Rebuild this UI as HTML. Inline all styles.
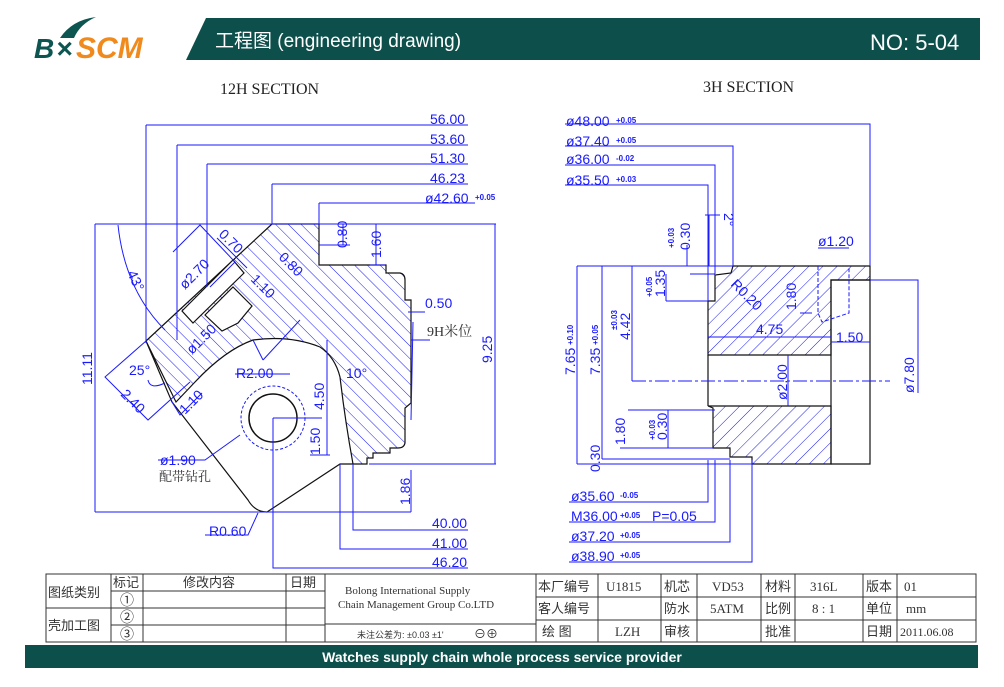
<!DOCTYPE html>
<html><head><meta charset="utf-8"><style>
html,body{margin:0;padding:0;background:#fff;}
svg{display:block;}
.b{fill:#1a1aff;font-family:"Liberation Sans",sans-serif;font-size:14px;}
.s{fill:#1a1aff;font-family:"Liberation Sans",sans-serif;font-size:8px;font-weight:bold;}
.k{fill:#222;font-family:"Liberation Serif","Noto Serif CJK SC",serif;}
.t{font-family:"Liberation Sans","Noto Sans CJK SC",sans-serif;}
</style></head><body>
<svg width="1004" height="687" viewBox="0 0 1004 687" xmlns="http://www.w3.org/2000/svg">
<defs>
<pattern id="hL" width="9" height="9" patternUnits="userSpaceOnUse" patternTransform="rotate(-45)"><line x1="0" y1="0" x2="0" y2="9" stroke="#1a1aff" stroke-width="1"/></pattern>
<pattern id="hR" width="10" height="10" patternUnits="userSpaceOnUse" patternTransform="rotate(45)"><line x1="0" y1="0" x2="0" y2="10" stroke="#1a1aff" stroke-width="1"/></pattern>
</defs>
<!-- header -->
<g>
<path d="M60 38 Q72 20 96 17 Q80 24 74 38Z" fill="#0d5550"/>
<text x="34" y="58" font-family="Liberation Sans" font-style="italic" font-weight="bold" font-size="28" fill="#0d5550">B</text>
<text x="56" y="58" font-family="Liberation Sans" font-style="italic" font-weight="bold" font-size="28" fill="#0d5550">×</text>
<text x="76" y="58" font-family="Liberation Sans" font-style="italic" font-weight="bold" font-size="30" fill="#f08a1c">SCM</text>
<path d="M206 18 L980 18 L980 60 L186 60Z" fill="#0d4f4b"/>
<text x="215" y="47" class="t" fill="#fff" font-size="19">工程图  (engineering drawing)</text>
<text x="870" y="50" class="t" fill="#fff" font-size="22">NO: 5-04</text>
</g>
<text x="220" y="94" class="k" font-size="16">12H SECTION</text>
<text x="703" y="92" class="k" font-size="16">3H SECTION</text>

<!-- LEFT DRAWING -->
<g>
<path d="M146 341 L272 224 L319 224 L319 265 L386 265 L386 273 L400 273 Q405 274 405 280 L405 300 L411 300 L411 403 L405 408 L405 443 Q404 448 398 448 L390 448 L390 453 L373 453 L373 458 L367 458 L367 464 L353 464 Q345 420 340 377 Q335 357 320 347 Q290 335 253 340 Q225 350 195 382 L176 402 Z" fill="url(#hL)" stroke="#111" stroke-width="1.2"/>
<path d="M146 341 L172 402 L248 500 Q255 512 267 512 L340 464 L353 464" fill="none" stroke="#111" stroke-width="1.2"/>
<path d="M182 311 L233 260 L244 273 L193 323 Z" fill="#fff" stroke="#111" stroke-width="1.2"/>
<path d="M205 315 L233 287 L252 306 L238 323 L222 331 Z" fill="#fff" stroke="#111" stroke-width="1.2"/>
<circle cx="273" cy="418" r="24" fill="#fff" stroke="#111" stroke-width="1.5"/>
<circle cx="273" cy="418" r="32" fill="none" stroke="#1a1aff" stroke-dasharray="3,2"/>
<g stroke="#1a1aff" stroke-width="1" fill="none">
<path d="M146 125H468M146 125V343M177 145H468M177 145V340M207 164H468M207 164V287M272 184H468M272 184V224M319 203H475M319 203V224"/>
<path d="M95 224H496M495 224V464M369 464H496M95 224V512M95 512H411M411 470V512"/>
<path d="M319 245H350M343 224V245M376 224V265M370 265H385"/>
<path d="M408 312H425M413 322L411 420M411 340H430"/>
<path d="M353 464V530H468M340 464V549H468M273 418V568H468"/>
<path d="M327 340V455M310 455H330M273 418H322"/>
<path d="M118 225Q125 290 165 330"/>
<path d="M146 341L105 377L148 420L190 382M165 383Q150 390 148 380"/>
<path d="M172 402L180 415L202 393"/>
<path d="M173 252L200 225L235 262L210 287M217 238L247 268"/>
<path d="M263 360L253 340M263 360L300 320M235 374H290"/>
<path d="M240 435L205 460H158"/>
<path d="M258 513L248 535H205"/>
</g>
<g class="b">
<text x="430" y="124">56.00</text><text x="430" y="144">53.60</text><text x="430" y="163">51.30</text><text x="430" y="183">46.23</text><text x="425" y="203">ø42.60</text><text x="475" y="200" class="s">+0.05</text>
<text x="425" y="308">0.50</text>
<text x="427" y="336" class="k" font-size="14" style="fill:#333">9H米位</text>
<text x="236" y="378">R2.00</text><text x="346" y="378">10°</text>
<text x="160" y="465">ø1.90</text>
<text x="159" y="481" class="k" style="fill:#333" font-size="13">配带钻孔</text>
<text x="209" y="536">R0.60</text>
<text x="432" y="528">40.00</text><text x="432" y="548">41.00</text><text x="432" y="567">46.20</text>
<text x="129" y="375">25°</text>
<text transform="translate(347,248) rotate(-90)">0.80</text>
<text transform="translate(381,258) rotate(-90)">1.60</text>
<text transform="translate(492,363) rotate(-90)">9.25</text>
<text transform="translate(92,385) rotate(-90)">11.11</text>
<text transform="translate(324,410) rotate(-90)">4.50</text>
<text transform="translate(320,455) rotate(-90)">1.50</text>
<text transform="translate(410,505) rotate(-90)">1.86</text>
<text transform="translate(127,273) rotate(65)">43°</text>
<text transform="translate(120,395) rotate(45)">2.40</text>
<text transform="translate(185,415) rotate(-45)">1.10</text>
<text transform="translate(185,290) rotate(-45)">ø2.70</text>
<text transform="translate(218,235) rotate(45)">0.70</text>
<text transform="translate(278,258) rotate(45)">0.80</text>
<text transform="translate(250,280) rotate(45)">1.10</text>
<text transform="translate(192,355) rotate(-45)">ø1.50</text>
</g>
</g>

<!-- RIGHT DRAWING -->
<g>
<path d="M733 266 L870 266 L870 280 L831 280 L831 355 L708 355 L708 301 L715 301 L715 275 L731 273 Z" fill="url(#hR)" stroke="#111" stroke-width="1.2"/>
<path d="M708 406 L831 406 L831 464 L752 464 L752 457 L730 457 L730 448 L713 448 L713 408 Z" fill="url(#hR)" stroke="#111" stroke-width="1.2"/>
<path d="M831 280 H870 V464 H831 Z M708 355 V406" fill="none" stroke="#111" stroke-width="1.2"/>
<g stroke="#1a1aff" stroke-width="1" fill="none">
<path d="M565 124H870V266M565 146H733V266M565 165H715V274M565 185H708V301"/>
<path d="M632 381H890" stroke-dasharray="14,3,3,3"/>
<path d="M818 266V313L822 322L849 313V266" stroke-dasharray="4,2"/>
<path d="M818 248H849M800 313H812"/>
<path d="M577 266H733M577 266V464M602 266V459M632 266V381M577 464H752M602 459H730M620 448H713"/>
<path d="M870 280H918V393M831 342H870"/>
<path d="M708 337H831M788 355V406"/>
<path d="M687 266V245M690 274H715M666 301H708M666 274V301"/>
<path d="M709 215V266M705 215H720"/>
<path d="M569 502H708V460M569 522H715V460M569 542H730V460M569 562H752V460"/>
<path d="M628 410H715M668 448V410"/>
</g>
<g class="b">
<text x="566" y="126">ø48.00</text><text x="616" y="123" class="s">+0.05</text>
<text x="566" y="146">ø37.40</text><text x="616" y="143" class="s">+0.05</text>
<text x="566" y="164">ø36.00</text><text x="616" y="161" class="s">-0.02</text>
<text x="566" y="185">ø35.50</text><text x="616" y="182" class="s">+0.03</text>
<text x="818" y="246">ø1.20</text>
<text x="756" y="334">4.75</text>
<text x="836" y="342">1.50</text>
<text x="571" y="501">ø35.60</text><text x="620" y="498" class="s">-0.05</text>
<text x="571" y="521">M36.00</text><text x="620" y="518" class="s">+0.05</text><text x="652" y="521">P=0.05</text>
<text x="571" y="541">ø37.20</text><text x="620" y="538" class="s">+0.05</text>
<text x="571" y="561">ø38.90</text><text x="620" y="558" class="s">+0.05</text>
<text transform="translate(575,375) rotate(-90)">7.65</text><text transform="translate(573,345) rotate(-90)" class="s">+0.10</text>
<text transform="translate(600,375) rotate(-90)">7.35</text><text transform="translate(598,345) rotate(-90)" class="s">+0.05</text>
<text transform="translate(630,340) rotate(-90)">4.42</text><text transform="translate(617,330) rotate(-90)" class="s">±0.03</text>
<text transform="translate(690,250) rotate(-90)">0.30</text><text transform="translate(674,248) rotate(-90)" class="s">+0.03</text>
<text transform="translate(665,297) rotate(-90)">1.35</text><text transform="translate(652,297) rotate(-90)" class="s">+0.05</text>
<text transform="translate(796,310) rotate(-90)">1.80</text>
<text transform="translate(730,285) rotate(45)">R0.20</text>
<text transform="translate(787,400) rotate(-90)">ø2.00</text>
<text transform="translate(914,393) rotate(-90)">ø7.80</text>
<text transform="translate(625,445) rotate(-90)">1.80</text>
<text transform="translate(667,440) rotate(-90)">0.30</text><text transform="translate(655,440) rotate(-90)" class="s">+0.03</text>
<text transform="translate(600,472) rotate(-90)">0.30</text>
<text transform="translate(724,213) rotate(90)">2°</text>
</g>
</g>

<!-- TABLE -->
<g stroke="#333" stroke-width="1" fill="none">
<rect x="46" y="574" width="930" height="68"/>
<path d="M111 574V642M143 574V642M286 574V642M325 574V642M536 574V642M598 574V642M661 574V642M697 574V642M761 574V642M795 574V642M863 574V642M897 574V642"/>
<path d="M111 591H325M111 608H325M46 608H111M111 625H325M325 624H536M536 597H976M536 620H976"/>
</g>
<g class="t" fill="#333" font-size="13">
<text x="48" y="597">图纸类别</text><text x="48" y="630">壳加工图</text>
<text x="113" y="587">标记</text><text x="183" y="587">修改内容</text><text x="290" y="587">日期</text>
<text x="120" y="605" font-size="14">①</text><text x="120" y="622" font-size="14">②</text><text x="120" y="639" font-size="14">③</text>
<text x="345" y="594" class="k" font-size="11" style="fill:#333">Bolong International Supply</text>
<text x="338" y="608" class="k" font-size="11" style="fill:#333">Chain Management Group Co.LTD</text>
<text x="357" y="638" font-size="9">未注公差为: ±0.03  ±1'</text><text x="474" y="638" font-size="12">⊖⊕</text>
<text x="538" y="591">本厂编号</text><text x="606" y="591" class="k" style="fill:#333">U1815</text>
<text x="664" y="591">机芯</text><text x="712" y="591" class="k" style="fill:#333">VD53</text>
<text x="765" y="591">材料</text><text x="810" y="591" class="k" style="fill:#333">316L</text>
<text x="866" y="591">版本</text><text x="904" y="591" class="k" style="fill:#333">01</text>
<text x="538" y="613">客人编号</text><text x="664" y="613">防水</text><text x="710" y="613" class="k" style="fill:#333">5ATM</text>
<text x="765" y="613">比例</text><text x="812" y="613" class="k" style="fill:#333">8 : 1</text>
<text x="866" y="613">单位</text><text x="906" y="613" class="k" style="fill:#333">mm</text>
<text x="542" y="636">绘  图</text><text x="615" y="636" class="k" style="fill:#333">LZH</text>
<text x="664" y="636">审核</text><text x="765" y="636">批准</text><text x="866" y="636">日期</text>
<text x="900" y="636" class="k" style="fill:#333" font-size="12">2011.06.08</text>
</g>
<rect x="25" y="645" width="953" height="23" fill="#0d4f4b"/>
<text x="502" y="662" text-anchor="middle" class="t" fill="#fff" font-size="14" font-weight="bold">Watches supply chain whole process service provider</text>
</svg>
</body></html>
